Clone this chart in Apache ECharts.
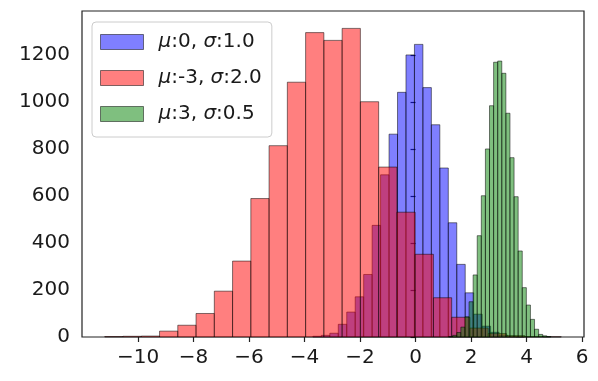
<!DOCTYPE html>
<html>
<head>
<meta charset="utf-8">
<script src="https://cdn.jsdelivr.net/npm/echarts@6/dist/echarts.min.js"></script>
<style>
html,body{margin:0;padding:0;background:#fff;}
#c{width:598px;height:381px;}
</style>
</head>
<body>
<div id="c"></div>
<script>
// Histogram definitions (25 bins each)
const seriesNames = ['μ:0, σ:1.0', 'μ:-3, σ:2.0', 'μ:3, σ:0.5'];
const muLabels = ['0', '-3', '3'];
const sigmaLabels = ['1.0', '2.0', '0.5'];

const blueBinStart = -3.70, blueBinWidth = 0.305;
const blueCounts = [3, 7, 16, 54, 106, 171, 266, 475, 690, 863, 1041, 1200, 1245, 1061, 903, 719, 486, 309, 188, 97, 46, 20, 8, 3, 1];

const redBinStart = -11.2, redBinWidth = 0.658;
const redCounts = [2, 3, 4, 25, 50, 100, 195, 323, 589, 814, 1084, 1295, 1262, 1313, 1001, 723, 531, 352, 167, 84, 38, 15, 6, 2, 1];

const greenBinStart = 1.19, greenBinWidth = 0.1475;
const greenCounts = [2, 7, 19, 42, 86, 150, 264, 431, 601, 800, 984, 1169, 1174, 1122, 952, 763, 597, 366, 210, 136, 75, 33, 11, 5, 2];

const xTicks = [-10, -8, -6, -4, -2, 0, 2, 4, 6];
const yTicks = [0, 200, 400, 600, 800, 1000, 1200];

const colors = ['rgba(0,0,255,0.5)', 'rgba(255,0,0,0.5)', 'rgba(0,128,0,0.5)'];
const edgeColor = 'rgba(0,0,0,0.5)';
const FONT = 'DejaVu Sans';

function bins(start, width, counts) {
  return counts.map((c, i) => [start + i * width, start + (i + 1) * width, c]);
}

function histSeries(name, data, color) {
  return {
    type: 'custom',
    name: name,
    data: data,
    encode: { x: [0, 1], y: 2 },
    itemStyle: { color: color, borderColor: edgeColor, borderWidth: 1 },
    renderItem: function (params, api) {
      const p0 = api.coord([api.value(0), api.value(2)]);
      const p1 = api.coord([api.value(1), 0]);
      return {
        type: 'rect',
        shape: { x: p0[0], y: p0[1], width: p1[0] - p0[0], height: p1[1] - p0[1] },
        style: { fill: color, stroke: edgeColor, lineWidth: 1 }
      };
    }
  };
}

const chart = echarts.init(document.getElementById('c'), null, { renderer: 'canvas' });
chart.setOption({
  animation: false,
  backgroundColor: '#fff',
  grid: { left: 82, top: 11, width: 502, height: 326, show: true, borderColor: '#222', borderWidth: 1.2, backgroundColor: 'transparent' },
  xAxis: {
    type: 'value', min: -12.02, max: 6.07,
    axisLine: { show: false },
    splitLine: { show: false },
    axisTick: { show: true, length: 5, lineStyle: { color: '#222', width: 1.2 }, customValues: xTicks },
    axisLabel: {
      customValues: xTicks, margin: 11, color: '#1a1a1a', fontSize: 20, fontFamily: FONT,
      formatter: v => (v < 0 ? '\u2212' + (-v) : String(v))
    }
  },
  yAxis: {
    type: 'value', min: 0, max: 1387,
    axisLine: { show: false },
    splitLine: { show: false },
    axisTick: { show: true, length: 5, lineStyle: { color: '#222', width: 1.2 }, customValues: yTicks },
    axisLabel: { customValues: yTicks, margin: 12, color: '#1a1a1a', fontSize: 20, fontFamily: FONT, formatter: v => String(v) }
  },
  legend: {
    orient: 'vertical', left: 92, top: 22,
    itemWidth: 43, itemHeight: 15, itemGap: 12,
    padding: [8, 10, 11, 8],
    backgroundColor: 'rgba(255,255,255,0.8)', borderColor: '#cccccc', borderWidth: 1, borderRadius: 4,
    icon: 'rect',
    data: seriesNames.map((n, i) => ({ name: n, itemStyle: { color: colors[i], borderColor: edgeColor, borderWidth: 1 } })),
    formatter: function (name) {
      const i = seriesNames.indexOf(name);
      return '{i|μ}{n|:' + muLabels[i] + ', }{i|σ}{n|:' + sigmaLabels[i] + '}';
    },
    textStyle: {
      fontSize: 20, fontFamily: FONT, color: '#1a1a1a', lineHeight: 24, padding: [0, 0, 0, 10],
      rich: {
        i: { fontStyle: 'italic', fontSize: 20, fontFamily: FONT, color: '#1a1a1a', lineHeight: 24 },
        n: { fontSize: 20, fontFamily: FONT, color: '#1a1a1a', lineHeight: 24 }
      }
    }
  },
  series: [
    histSeries(seriesNames[0], bins(blueBinStart, blueBinWidth, blueCounts), colors[0]),
    histSeries(seriesNames[1], bins(redBinStart, redBinWidth, redCounts), colors[1]),
    histSeries(seriesNames[2], bins(greenBinStart, greenBinWidth, greenCounts), colors[2])
  ]
});
</script>
</body>
</html>
